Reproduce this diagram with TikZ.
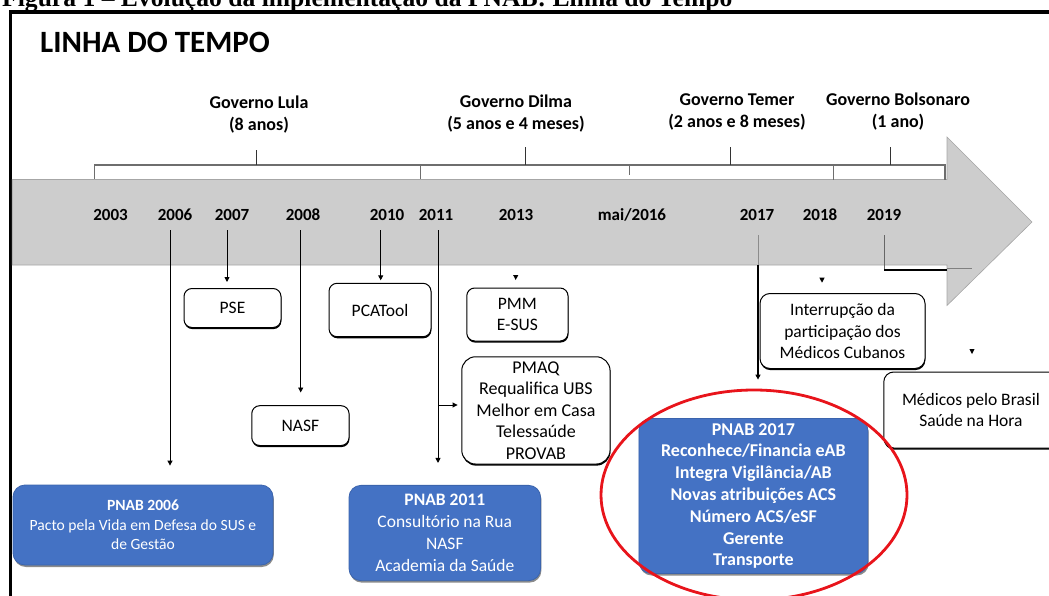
\documentclass[tikz,border=0pt]{standalone}
\usepackage{fontspec}
\setmainfont{Carlito}
\newfontfamily\capfont{Liberation Serif}
\usetikzlibrary{arrows.meta,shadows}
\definecolor{bluebox}{HTML}{4472C4}
\definecolor{blueedge}{HTML}{3B64AD}
\definecolor{arrowgray}{HTML}{CDCDCD}
\definecolor{arrowedge}{HTML}{A6A6A6}
\definecolor{bracegray}{HTML}{6E6E6E}
\definecolor{ringred}{HTML}{E8141B}
\newcommand\fsz[2]{\fontsize{#1}{#2}\selectfont}
\begin{document}
\begin{tikzpicture}[x=1pt,y=-1pt,
  wbox/.style={draw=black, line width=1pt, rounded corners=8pt, fill=white,
    drop shadow={shadow xshift=0.4pt, shadow yshift=-1.6pt, opacity=1, fill=black},
    align=center, inner sep=0pt, font=\fsz{17.5}{21.5}},
  bbox/.style={draw=blueedge, line width=0.8pt, rounded corners=12pt, fill=bluebox,
    drop shadow={shadow xshift=0.8pt, shadow yshift=-2pt, opacity=0.45, fill=black},
    align=center, inner sep=0pt, text=white},
  yearlbl/.style={anchor=base, font=\bfseries\fsz{17}{20}, inner sep=0pt},
  govlbl/.style={align=center, font=\bfseries\fsz{18}{22}, inner sep=0pt},
  conn/.style={draw=black, line width=0.9pt, -{Triangle[length=5pt,width=5pt]}},
  bracel/.style={draw=bracegray, line width=1.2pt},
  bracetick/.style={draw=black!80, line width=1pt},
  tipmark/.style={fill=black}
]
\useasboundingbox (0,0) rectangle (1049,596);

% clipped caption line at the very top
\begin{scope}
\clip (0,0) rectangle (1049,596);
\node[anchor=base west, font=\capfont\bfseries\fsz{25.6}{30}, inner sep=0pt] (caption) at (2,6.5)
  {Figura 1 – Evolução da implementação da PNAB: Linha do Tempo};
\end{scope}

% frame
\draw[line width=3.6pt] (10.3,600) -- (10.3,12) -- (1055,12);

% big gray arrow
\fill[arrowgray, draw=arrowedge, line width=0.6pt]
  (12.2,179.5) -- (947,179.5) -- (947,137) -- (1032,222) -- (947,305.5) -- (947,265) -- (12.2,265) -- cycle;

% title
\node[anchor=base west, font=\bfseries\fsz{31}{36}, inner sep=0pt] (title) at (40,53) {LINHA DO TEMPO};

% braces
\draw[bracel] (94.6,179) -- (94.6,165) -- (420.6,165) -- (420.6,179);
\draw[bracetick] (256.8,165) -- (256.8,150);
\draw[bracel] (420.6,165) -- (629.6,165) -- (629.6,175);
\draw[bracetick] (525,165) -- (525,147.5);
\draw[bracel] (629.6,165) -- (833.8,165) -- (833.8,180);
\draw[bracetick] (730.9,165) -- (730.9,147.5);
\draw[bracel] (833.8,165) -- (945,165) -- (945,180);
\draw[bracetick] (890,165) -- (890,147.5);

% government labels
\node[govlbl] (glula) at (259,114.5) {Governo Lula\\(8 anos)};
\node[govlbl] (gdilma) at (516,113.5) {Governo Dilma\\(5 anos e 4 meses)};
\node[govlbl] (gtemer) at (737,111.5) {Governo Temer\\(2 anos e 8 meses)};
\node[govlbl] (gbolso) at (898,112) {Governo Bolsonaro\\(1 ano)};

% years
\node[yearlbl] (y2003) at (110.5,221) {2003};
\node[yearlbl] (y2006) at (175,221) {2006};
\node[yearlbl] (y2007) at (232,221) {2007};
\node[yearlbl] (y2008) at (303,221) {2008};
\node[yearlbl] (y2010) at (387,221) {2010};
\node[yearlbl] (y2011) at (436,221) {2011};
\node[yearlbl] (y2013) at (516,221) {2013};
\node[yearlbl] (y2016) at (632,221) {mai/2016};
\node[yearlbl] (y2017) at (757,221) {2017};
\node[yearlbl] (y2018) at (820,221) {2018};
\node[yearlbl] (y2019) at (884,221) {2019};

% white boxes
\node[wbox, minimum width=97pt, minimum height=39pt] (pse) at (232.5,308) {PSE};
\node[wbox, minimum width=102pt, minimum height=53.4pt] (pcatool) at (380,310) {PCATool};
\node[wbox, minimum width=97.3pt, minimum height=39.8pt] (nasf) at (300.4,425.6) {NASF};
\node[wbox, minimum width=101.3pt, minimum height=53pt] (pmm) at (517.4,314.5) {PMM\\E-SUS};
\node[wbox, rounded corners=14pt, minimum width=148.3pt, minimum height=107.3pt, font=\fsz{18}{21.5}] (pmaq) at (535.9,410.4)
  {PMAQ\\Requalifica UBS\\Melhor em Casa\\Telessaúde\\PROVAB};
\node[wbox, rounded corners=10pt, minimum width=165pt, minimum height=75pt] (cubanos) at (842.5,331)
  {Interrupção da\\participação dos\\Médicos Cubanos};
\node[wbox, rounded corners=10pt, minimum width=181.3pt, minimum height=76pt] (medicos) at (974.4,410)
  {\hspace*{-7pt}Médicos pelo Brasil\\\hspace*{-7pt}Saúde na Hora};

% blue boxes
\node[bbox, minimum width=260pt, minimum height=80pt, font=\fsz{15.6}{19.4}] (pnab06) at (143,525)
  {\textbf{PNAB 2006}\\Pacto pela Vida em Defesa do SUS e\\de Gestão};
\node[bbox, minimum width=191.6pt, minimum height=95.3pt, font=\fsz{17.5}{21.8}] (pnab11) at (444.8,533)
  {\textbf{PNAB 2011}\\Consultório na Rua\\NASF\\Academia da Saúde};
\node[bbox, minimum width=229pt, minimum height=155pt, font=\bfseries\fsz{18}{21.8}] (pnab17) at (753.4,496)
  {PNAB 2017\\Reconhece/Financia eAB\\Integra Vigilância/AB\\Novas atribuições ACS\\Número ACS/eSF\\Gerente\\Transporte};

% red ring
\draw[ringred, line width=2.8pt] (754,495) ellipse [x radius=153, y radius=105];

% connector start points
\coordinate (s2006) at (170,230);
\coordinate (s2007) at (227,230);
\coordinate (s2008) at (300.7,230);
\coordinate (s2010) at (380.7,230);
\coordinate (s2011) at (438,230);
\coordinate (b2011) at (438,405);
\coordinate (s2017) at (758,265);
\coordinate (g2017) at (758,235);
\coordinate (s2019) at (884.4,235);
\coordinate (k2019) at (884.4,270);
\coordinate (e2019) at (946.8,270);
\coordinate (f2019) at (972,268);

\draw[conn, shorten >=19pt] (s2006) -- (s2006 |- pnab06.north);
\draw[conn, shorten >=6pt] (s2007) -- (s2007 |- pse.north);
\draw[conn, shorten >=12.7pt] (s2008) -- (s2008 |- nasf.north);
\draw[conn, shorten >=2.5pt] (s2010) -- (s2010 |- pcatool.north);
\draw[conn, shorten >=22pt] (s2011) -- (s2011 |- pnab11.north);
\draw[conn, shorten >=3.7pt] (b2011) -- (b2011 -| pmaq.west);
\draw[draw=black!45, line width=0.8pt] (g2017) -- (s2017);
\draw[conn, line width=1.2pt, shorten >=38.5pt] (s2017) -- (s2017 |- pnab17.north);
\draw[draw=black!60, line width=0.8pt] (s2019) -- (k2019);
\draw[line width=1.1pt] (k2019) -- (e2019);
\draw[draw=black!50, line width=0.6pt] (e2019 |- f2019) -- (f2019);

% lone arrow tips
\fill[tipmark] (515.7,280) -- ++(-2.6,-5) -- ++(5.2,0) -- cycle;
\fill[tipmark] (822,282.7) -- ++(-2.6,-5) -- ++(5.2,0) -- cycle;
\fill[tipmark] (972,354) -- ++(-2.6,-5) -- ++(5.2,0) -- cycle;
\end{tikzpicture}
\end{document}
